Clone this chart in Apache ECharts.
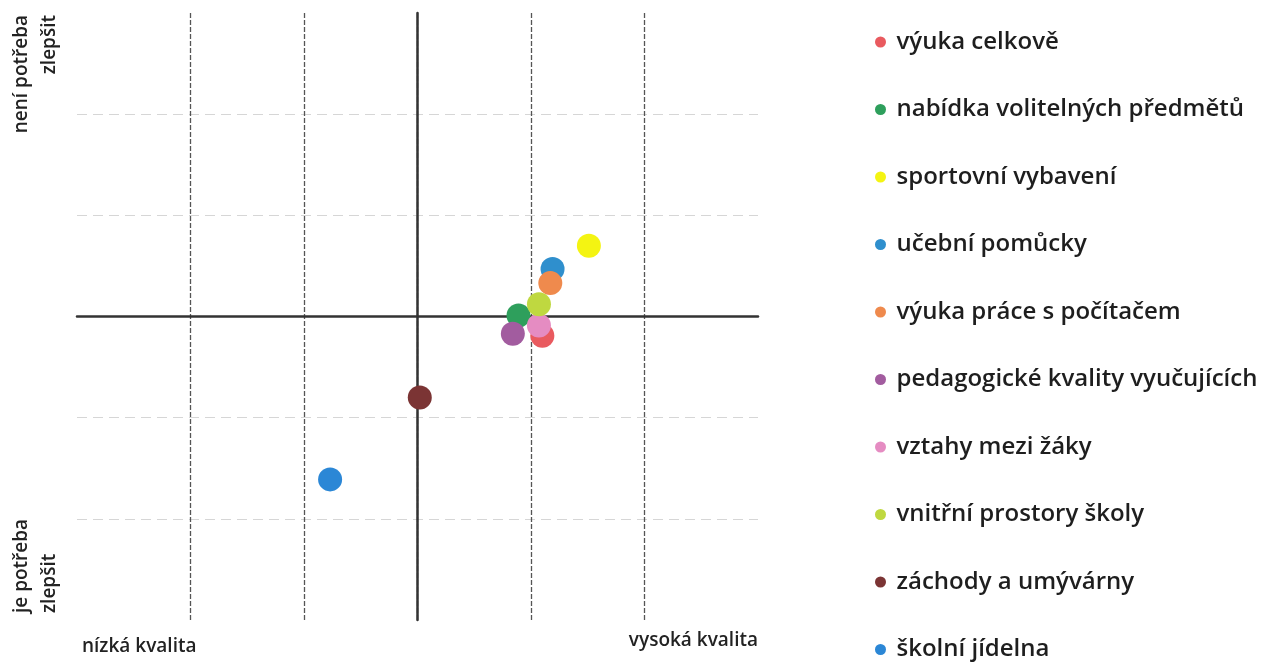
<html>
    <head>
        <meta charset="utf-8">
        <script src="https://cdn.jsdelivr.net/npm/echarts@6/dist/echarts.min.js"></script>
        <style>
            html, body { margin: 0; padding: 0; background: #fff; }
            #main { position: absolute; left: 0; top: 0; width: 1264px; height: 662px; }
        </style>
    </head>
    <body>
        <div id="main"></div>
        <script>
            // one point per item: x = quality (low .. high), y = need to improve (yes .. no)
            var itemNames = [
                'výuka celkově',
                'nabídka volitelných předmětů',
                'sportovní vybavení',
                'učební pomůcky',
                'výuka práce s počítačem',
                'pedagogické kvality vyučujících',
                'vztahy mezi žáky',
                'vnitřní prostory školy',
                'záchody a umývárny',
                'školní jídelna'
            ];
            var qualityValues = [1.10, 0.89, 1.51, 1.19, 1.17, 0.84, 1.07, 1.07, 0.02, -0.77];
            var needValues = [-0.19, 0.01, 0.70, 0.47, 0.33, -0.17, -0.09, 0.12, -0.80, -1.61];
            var itemColors = [
                '#e95a5f', '#2e9f5c', '#f4f412', '#2f8fcd', '#ef8a4d',
                '#a25c9f', '#e58cc2', '#bfd840', '#7b3434', '#2b87d6'
            ];

            var FONT = '"Open Sans", "Noto Sans", sans-serif';

            var chart = echarts.init(document.getElementById('main'), null, {
                renderer: 'canvas'
            });

            var series = itemNames.map(function (name, i) {
                return {
                    name: name,
                    type: 'scatter',
                    symbol: 'circle',
                    symbolSize: 24,
                    itemStyle: { color: itemColors[i], opacity: 1 },
                    data: [[qualityValues[i], needValues[i]]]
                };
            });

            chart.setOption({
                animation: false,
                backgroundColor: '#ffffff',
                grid: { left: 77, right: 506, top: 13, bottom: 42 },
                xAxis: {
                    type: 'value',
                    min: -3, max: 3, interval: 1,
                    axisLine: { onZero: true, lineStyle: { color: '#333', width: 2.5 } },
                    axisTick: { show: false },
                    axisLabel: { show: false },
                    splitLine: {
                        show: true,
                        showMinLine: false,
                        showMaxLine: false,
                        lineStyle: { color: '#555', width: 1.3, type: [5, 2] }
                    }
                },
                yAxis: {
                    type: 'value',
                    min: -3, max: 3, interval: 1,
                    axisLine: { onZero: true, lineStyle: { color: '#333', width: 2.5 } },
                    axisTick: { show: false },
                    axisLabel: { show: false },
                    splitLine: {
                        show: true,
                        showMinLine: false,
                        showMaxLine: false,
                        lineStyle: { color: '#d6d6d6', width: 1, type: [10, 6] }
                    }
                },
                legend: {
                    orient: 'vertical',
                    left: 875,
                    top: 30,
                    height: 700,
                    padding: 0,
                    icon: 'circle',
                    itemWidth: 22,
                    itemHeight: 11,
                    itemGap: 43.5,
                    textStyle: {
                        fontFamily: FONT,
                        fontSize: 24,
                        fontWeight: 600,
                        color: '#1e1e1e',
                        lineHeight: 24
                    },
                    data: itemNames
                },
                graphic: [
                    {
                        type: 'text', x: 8, y: 15, rotation: Math.PI / 2,
                        style: {
                            text: 'není potřeba\nzlepšit',
                            font: '600 19px ' + FONT,
                            fill: '#222',
                            align: 'right',
                            verticalAlign: 'top',
                            lineHeight: 28
                        }
                    },
                    {
                        type: 'text', x: 8, y: 613, rotation: Math.PI / 2,
                        style: {
                            text: 'je potřeba\nzlepšit',
                            font: '600 19px ' + FONT,
                            fill: '#222',
                            align: 'left',
                            verticalAlign: 'top',
                            lineHeight: 28
                        }
                    },
                    {
                        type: 'text', x: 82, y: 647,
                        style: {
                            text: 'nízká kvalita',
                            font: '600 19px ' + FONT,
                            fill: '#222',
                            align: 'left',
                            verticalAlign: 'middle'
                        }
                    },
                    {
                        type: 'text', x: 758, y: 641,
                        style: {
                            text: 'vysoká kvalita',
                            font: '600 19px ' + FONT,
                            fill: '#222',
                            align: 'right',
                            verticalAlign: 'middle'
                        }
                    }
                ],
                series: series
            });
        </script>
    </body>
</html>
